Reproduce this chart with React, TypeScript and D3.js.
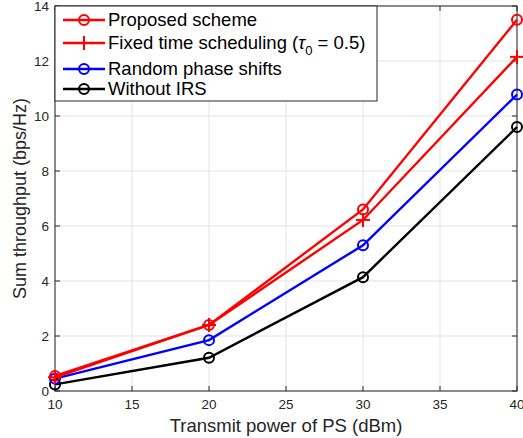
import React, { useEffect, useRef } from 'react';
import * as d3 from 'd3';

const powers = [10, 20, 30, 40];
const proposed = [0.55, 2.4, 6.6, 13.5];
const fixedTime = [0.5, 2.4, 6.22, 12.15];
const randomPhase = [0.45, 1.85, 5.3, 10.78];
const withoutIrs = [0.24, 1.21, 4.14, 9.6];
const xTicks = [10, 15, 20, 25, 30, 35, 40];
const yTicks = [0, 2, 4, 6, 8, 10, 12, 14];

const series = [
  { name: 'Proposed scheme', values: proposed, color: '#ff0000', marker: 'circle' },
  { name: 'Fixed time scheduling', values: fixedTime, color: '#ff0000', marker: 'plus' },
  { name: 'Random phase shifts', values: randomPhase, color: '#0000ff', marker: 'circle' },
  { name: 'Without IRS', values: withoutIrs, color: '#000000', marker: 'circle' },
];

const App = () => {
  const ref = useRef<SVGSVGElement>(null);

  const width = 523;
  const height = 438;
  const margin = { top: 6, right: 6, bottom: 47, left: 55 };

  useEffect(() => {
    const svg = d3.select(ref.current);
    svg.selectAll('*').remove();

    const x0 = margin.left;
    const x1 = width - margin.right;
    const y0 = height - margin.bottom;
    const y1 = margin.top;

    const x = d3.scaleLinear().domain([10, 40]).range([x0, x1]);
    const y = d3.scaleLinear().domain([0, 14]).range([y0, y1]);

    svg.append('rect').attr('width', width).attr('height', height).attr('fill', '#fff');

    // grid
    const grid = svg.append('g').attr('stroke', '#e3e3e3').attr('stroke-width', 1);
    xTicks.forEach(t => {
      grid.append('line').attr('x1', x(t)).attr('x2', x(t)).attr('y1', y0).attr('y2', y1);
    });
    yTicks.forEach(t => {
      grid.append('line').attr('x1', x0).attr('x2', x1).attr('y1', y(t)).attr('y2', y(t));
    });

    // box + inward ticks
    const axisColor = '#262626';
    svg.append('rect')
      .attr('x', x0).attr('y', y1).attr('width', x1 - x0).attr('height', y0 - y1)
      .attr('fill', 'none').attr('stroke', axisColor).attr('stroke-width', 1);

    const ticks = svg.append('g').attr('stroke', axisColor).attr('stroke-width', 1);
    xTicks.forEach(t => {
      ticks.append('line').attr('x1', x(t)).attr('x2', x(t)).attr('y1', y0).attr('y2', y0 - 5);
      ticks.append('line').attr('x1', x(t)).attr('x2', x(t)).attr('y1', y1).attr('y2', y1 + 5);
    });
    yTicks.forEach(t => {
      ticks.append('line').attr('x1', x0).attr('x2', x0 + 5).attr('y1', y(t)).attr('y2', y(t));
      ticks.append('line').attr('x1', x1).attr('x2', x1 - 5).attr('y1', y(t)).attr('y2', y(t));
    });

    const font = 'Liberation Sans, Arial, sans-serif';

    svg.append('g').selectAll('text').data(xTicks).enter().append('text')
      .attr('x', d => x(d)).attr('y', y0 + 18)
      .attr('text-anchor', 'middle').attr('font-family', font).attr('font-size', 13.5)
      .attr('fill', axisColor).text(d => d);

    svg.append('g').selectAll('text').data(yTicks).enter().append('text')
      .attr('x', x0 - 6).attr('y', d => y(d) + 5)
      .attr('text-anchor', 'end').attr('font-family', font).attr('font-size', 13.5)
      .attr('fill', axisColor).text(d => d);

    svg.append('text')
      .attr('x', (x0 + x1) / 2).attr('y', 432)
      .attr('text-anchor', 'middle').attr('font-family', font).attr('font-size', 18.5)
      .attr('fill', axisColor).text('Transmit power of PS (dBm)');

    svg.append('text')
      .attr('transform', `translate(26,${(y0 + y1) / 2}) rotate(-90)`)
      .attr('text-anchor', 'middle').attr('font-family', font).attr('font-size', 18)
      .attr('fill', axisColor).text('Sum throughput (bps/Hz)');

    const line = d3.line<number>().x((d, i) => x(powers[i])).y(d => y(d));

    const drawMarker = (g: any, cx: number, cy: number, s: any, size: number) => {
      if (s.marker === 'circle') {
        g.append('circle').attr('cx', cx).attr('cy', cy).attr('r', size)
          .attr('fill', 'none').attr('stroke', s.color).attr('stroke-width', 2);
      } else {
        g.append('line').attr('x1', cx - size - 2).attr('x2', cx + size + 2).attr('y1', cy).attr('y2', cy)
          .attr('stroke', s.color).attr('stroke-width', 2);
        g.append('line').attr('x1', cx).attr('x2', cx).attr('y1', cy - size - 2).attr('y2', cy + size + 2)
          .attr('stroke', s.color).attr('stroke-width', 2);
      }
    };

    // draw series (bottom first)
    [...series].reverse().forEach(s => {
      const g = svg.append('g');
      g.append('path').datum(s.values).attr('d', line)
        .attr('fill', 'none').attr('stroke', s.color).attr('stroke-width', 2.4);
      s.values.forEach((v, i) => drawMarker(g, x(powers[i]), y(v), s, 5));
    });

    // legend
    const legend = svg.append('g');
    legend.append('rect')
      .attr('x', x0).attr('y', y1).attr('width', 322).attr('height', 95)
      .attr('fill', '#fff').attr('stroke', axisColor).attr('stroke-width', 1);
    const rowY = [20, 43, 69, 89];
    series.forEach((s, i) => {
      const ry = rowY[i];
      legend.append('line').attr('x1', 63).attr('x2', 105).attr('y1', ry).attr('y2', ry)
        .attr('stroke', s.color).attr('stroke-width', 2.4);
      drawMarker(legend, 84, ry, s, 5);
      const t = legend.append('text').attr('x', 108).attr('y', ry + 6)
        .attr('font-family', font).attr('font-size', 18.5).attr('fill', '#000');
      if (i === 1) {
        t.append('tspan').text('Fixed time scheduling (');
        t.append('tspan').attr('font-style', 'italic').text('τ');
        t.append('tspan').attr('font-size', 13).attr('dy', 6).text('0');
        t.append('tspan').attr('dy', -6).text(' = 0.5)');
      } else {
        t.text(s.name);
      }
    });
  }, []);

  return <svg ref={ref} width={width} height={height} style={{ display: 'block', position: 'absolute', left: 0, top: 0 }}></svg>;
};

export default App;
